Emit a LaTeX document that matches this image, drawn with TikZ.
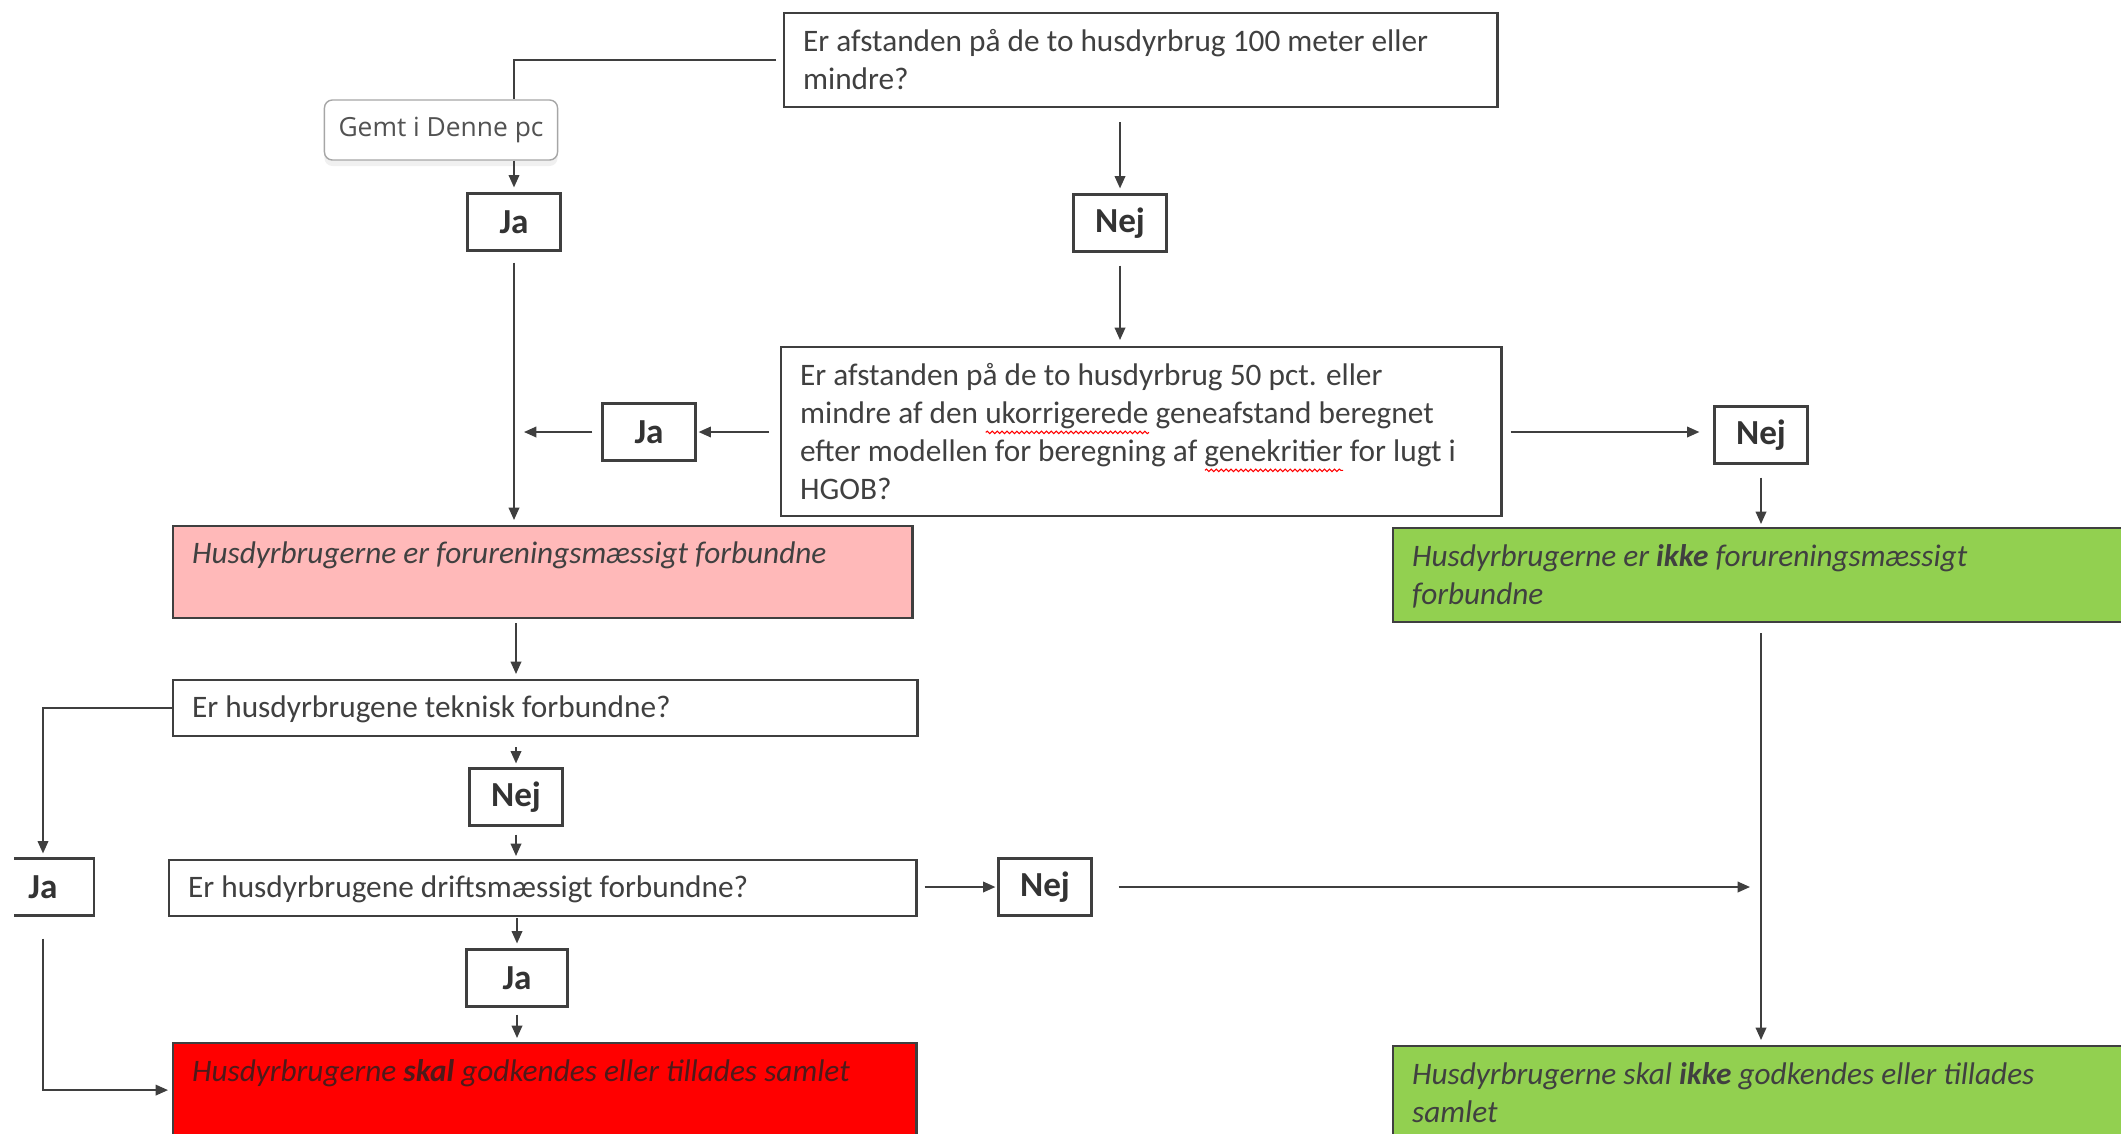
\documentclass[tikz,border=0pt]{standalone}
\usepackage{fontspec}
\setmainfont{Carlito}
\newfontfamily\uifont{Open Sans}
\usetikzlibrary{arrows.meta,shadows,decorations.pathmorphing}

\definecolor{linjefarve}{HTML}{3F3F3F}
\definecolor{tekstfarve}{HTML}{404040}
\definecolor{lyserod}{HTML}{FFB9B9}
\definecolor{rod}{HTML}{FF0000}
\definecolor{gron}{HTML}{92D050}
\definecolor{mork}{HTML}{4E1A1A}

\newlength{\ordbredde}
\newcommand{\boks}[3]{\parbox[c][#2][t]{#1}{\vspace*{0.04cm}\raggedright #3}}
\newcommand{\stavefejl}[1]{\settowidth{\ordbredde}{#1}%
  \rlap{\tikz[baseline=0pt, x=1cm, y=1cm]\draw[red, line width=0.3pt, decorate,
    decoration={snake, amplitude=0.35pt, segment length=1.4pt}] (0pt,-2.6pt) -- (\ordbredde,-2.6pt);}#1}

\tikzset{
  spm/.style={draw=linjefarve, line width=0.6pt, inner xsep=0.19cm, inner ysep=0.12cm,
    anchor=north west, text=tekstfarve, font=\fontsize{8.9}{10.8}\selectfont},
  resultat/.style={spm, font=\fontsize{8.9}{10.8}\selectfont\itshape},
  svar/.style={draw=linjefarve, line width=0.6pt, minimum width=0.93cm, minimum height=0.57cm,
    inner sep=0pt, text=black!80, font=\fontsize{10}{12}\selectfont\bfseries},
  gemt/.style={draw=black!35, fill=white, rounded corners=0.08cm, minimum width=2.33cm,
    minimum height=0.6cm, text=black!68, font=\uifont\fontsize{7.5}{9}\selectfont,
    drop shadow={opacity=0.12, shadow xshift=0pt, shadow yshift=-0.06cm}},
  linje/.style={draw=linjefarve, line width=0.5pt},
}

\begin{document}
\begin{tikzpicture}[x=0.01cm, y=-0.01cm, >={Triangle[length=3.5pt,width=3pt]}]
  \useasboundingbox (0,0) rectangle (2121,1133);
  \clip (14,0) rectangle (2121,1133);

  % spoergsmaal og svar
  \node[spm] (q1) at (783,12) {\boks{6.75cm}{0.70cm}{Er afstanden på de to husdyrbrug 100 meter eller\\ mindre?}};
  \node[gemt] (gemt) at (441,130) {Gemt i Denne pc};
  \node[svar] (ja1) at (514,222) {Ja};
  \node[svar] (nej1) at (1120,223) {Nej};
  \node[spm] (q2) at (780,346) {\boks{6.82cm}{1.45cm}{Er afstanden på de to husdyrbrug 50 pct. eller\\ mindre af den \stavefejl{ukorrigerede} geneafstand beregnet\\ efter modellen for beregning af \stavefejl{genekritier} for lugt i\\ HGOB?}};
  \node[svar] (ja2) at (649,432) {Ja};
  \node[svar] (nej2) at (1761,435) {Nej};
  \node[resultat, fill=lyserod] (pink) at (172,525) {\boks{7.01cm}{0.68cm}{Husdyrbrugerne er forureningsmæssigt forbundne}};
  \node[resultat, fill=gron] (gron1) at (1392,527) {\boks{7.20cm}{0.70cm}{Husdyrbrugerne er \textbf{ikke} forureningsmæssigt\\ forbundne}};
  \node[spm] (teknisk) at (172,679) {\boks{7.06cm}{0.32cm}{Er husdyrbrugene teknisk forbundne?}};
  \node[svar, minimum width=1.02cm] (ja3) at (43,887) {Ja};
  \node[svar] (nej3) at (516,797) {Nej};
  \node[spm] (drift) at (168,859) {\boks{7.09cm}{0.32cm}{Er husdyrbrugene driftsmæssigt forbundne?}};
  \node[svar] (nej4) at (1045,887) {Nej};
  \node[svar, minimum width=1.01cm] (ja4) at (517,978) {Ja};
  \node[resultat, fill=rod, text=mork] (rod) at (172,1042) {\boks{7.05cm}{0.70cm}{Husdyrbrugerne \textbf{skal} godkendes eller tillades samlet}};
  \node[resultat, fill=gron] (gron2) at (1392,1045) {\boks{7.20cm}{0.81cm}{Husdyrbrugerne skal \textbf{ikke} godkendes eller tillades\\ samlet}};

  \coordinate (jalinje) at (ja1 |- ja2);
  \coordinate (nejlinje) at (nej2 |- nej4);

  % forbindelser
  \draw[linje, shorten <=0.07cm] (q1.west) -| (gemt.north -| ja1);
  \draw[linje, ->, shorten >=0.05cm] (gemt.south -| ja1) -- (ja1);
  \draw[linje, ->, shorten <=0.11cm, shorten >=0.05cm] (ja1) -- (ja1 |- pink.north);
  \draw[linje, ->, shorten <=0.14cm, shorten >=0.05cm] (q1.south -| nej1) -- (nej1);
  \draw[linje, ->, shorten <=0.13cm, shorten >=0.06cm] (nej1) -- (nej1 |- q2.north);
  \draw[linje, ->, shorten <=0.11cm, shorten >=0.02cm] (q2.west |- ja2) -- (ja2);
  \draw[linje, ->, shorten <=0.09cm, shorten >=0.1cm] (ja2) -- (jalinje);
  \draw[linje, ->, shorten <=0.08cm, shorten >=0.14cm] (q2.east |- ja2) -- (nej2.west |- ja2);
  \draw[linje, ->, shorten <=0.13cm, shorten >=0.03cm] (nej2) -- (nej2 |- gron1.north);
  \draw[linje, ->, shorten <=0.04cm, shorten >=0.05cm] (pink.south -| nej3) -- (nej3 |- teknisk.north);
  \draw[linje, ->, shorten >=0.04cm] (teknisk.west) -| (ja3.north);
  \draw[linje, ->, shorten <=0.1cm, shorten >=0.04cm] (teknisk.south -| nej3) -- (nej3);
  \draw[linje, ->, shorten <=0.08cm, shorten >=0.03cm] (nej3) -- (nej3 |- drift.north);
  \draw[linje, ->, shorten <=0.07cm, shorten >=0.02cm] (drift.east |- nej4) -- (nej4);
  \draw[linje, ->, shorten <=0.26cm, shorten >=0.11cm] (nej4) -- (nejlinje);
  \draw[linje, ->, shorten <=0.1cm, shorten >=0.05cm] (gron1.south -| nej2) -- (nej2 |- gron2.north);
  \draw[linje, ->, shorten <=0.01cm, shorten >=0.05cm] (drift.south -| ja4) -- (ja4);
  \draw[linje, ->, shorten <=0.07cm, shorten >=0.04cm] (ja4) -- (ja4 |- rod.north);
  \draw[linje, ->, shorten <=0.22cm, shorten >=0.04cm] (ja3.south) |- (rod.west);
\end{tikzpicture}
\end{document}
